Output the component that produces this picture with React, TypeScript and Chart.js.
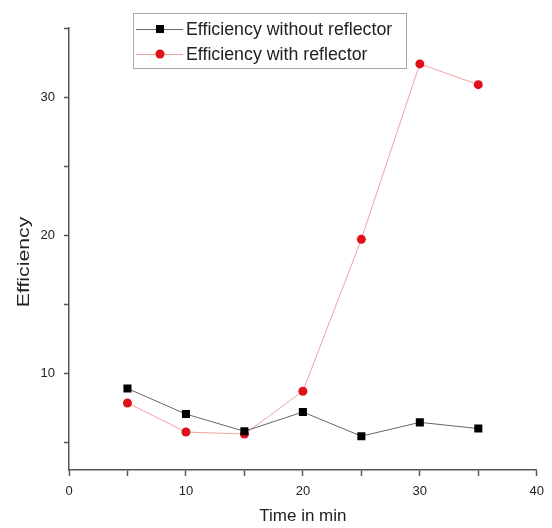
import React, { useEffect, useRef } from 'react';
import { Chart, registerables } from 'chart.js';

Chart.register(...registerables);

const timeMinutes = [5, 10, 15, 20, 25, 30, 35];
const efficiencyWithout = [8.9, 7.05, 5.8, 7.2, 5.45, 6.45, 6.0];
const efficiencyWith = [7.85, 5.75, 5.6, 8.7, 19.7, 32.4, 30.9];
const seriesLabels = ['Efficiency without reflector', 'Efficiency with reflector'];
const yTickValues = [5, 10, 15, 20, 25, 30, 35];
const xAxisTitle = 'Time in min';
const yAxisTitle = 'Efficiency';

const FONT = "'Liberation Sans', Arial, Helvetica, sans-serif";
const AXIS_COLOR = '#555555';

const boxLegend = {
  id: 'boxLegend',
  afterDraw(chart: any) {
    const { ctx, chartArea } = chart;
    const x0 = chartArea.left + 64;
    const y0 = chartArea.top - 15;
    const w = 273;
    const h = 55;
    ctx.save();
    ctx.fillStyle = '#ffffff';
    ctx.fillRect(x0, y0, w, h);
    ctx.strokeStyle = '#a8a8a8';
    ctx.lineWidth = 1;
    ctx.strokeRect(x0 + 0.5, y0 + 0.5, w, h);
    ctx.font = `17.8px ${FONT}`;
    ctx.textBaseline = 'middle';
    chart.data.datasets.forEach((ds: any, i: number) => {
      const cy = y0 + 16 + i * 25;
      ctx.strokeStyle = ds.borderColor;
      ctx.lineWidth = 1;
      ctx.beginPath();
      ctx.moveTo(x0 + 3, cy + 0.5);
      ctx.lineTo(x0 + 50, cy + 0.5);
      ctx.stroke();
      ctx.fillStyle = ds.pointBackgroundColor;
      if (ds.pointStyle === 'rect') {
        ctx.fillRect(x0 + 27 - 4, cy - 4, 8, 8);
      } else {
        ctx.beginPath();
        ctx.arc(x0 + 27, cy, 4.5, 0, Math.PI * 2);
        ctx.fill();
      }
      ctx.fillStyle = '#222222';
      ctx.fillText(ds.label, x0 + 53, cy + 1);
    });
    ctx.restore();
  },
};

const yTitlePlugin = {
  id: 'yTitle',
  afterDraw(chart: any) {
    const { ctx, chartArea } = chart;
    const cx = 24;
    const cy = (chartArea.top + chartArea.bottom) / 2 + 13;
    ctx.save();
    ctx.translate(cx, cy);
    ctx.rotate(-Math.PI / 2);
    ctx.scale(1.25, 1);
    ctx.font = `17px ${FONT}`;
    ctx.fillStyle = '#222222';
    ctx.textAlign = 'center';
    ctx.textBaseline = 'middle';
    ctx.fillText(yAxisTitle, 0, 0);
    ctx.restore();
  },
};

export default function App() {
  const canvasRef = useRef<HTMLCanvasElement | null>(null);

  useEffect(() => {
    document.body.style.margin = '0';
    const canvas = canvasRef.current;
    if (!canvas) return;
    const chart = new Chart(canvas, {
      type: 'line',
      data: {
        datasets: [
          {
            label: seriesLabels[0],
            data: timeMinutes.map((t, i) => ({ x: t, y: efficiencyWithout[i] })),
            borderColor: '#666666',
            borderWidth: 1,
            pointStyle: 'rect',
            pointRadius: 5.7,
            pointBackgroundColor: '#000000',
            pointBorderColor: '#000000',
            pointBorderWidth: 0,
            tension: 0,
          },
          {
            label: seriesLabels[1],
            data: timeMinutes.map((t, i) => ({ x: t, y: efficiencyWith[i] })),
            borderColor: '#f2a0a0',
            borderWidth: 1,
            pointStyle: 'circle',
            pointRadius: 4.5,
            pointBackgroundColor: '#e0101a',
            pointBorderColor: '#e0101a',
            pointBorderWidth: 0,
            tension: 0,
          },
        ],
      },
      options: {
        responsive: false,
        animation: false,
        devicePixelRatio: 1,
        layout: { padding: { left: 0, top: 28, right: 10, bottom: 0 } },
        plugins: {
          legend: { display: false },
          tooltip: { enabled: false },
        },
        scales: {
          x: {
            type: 'linear',
            min: 0,
            max: 40,
            afterFit: (scale: any) => {
              scale.height = 58;
            },
            ticks: {
              stepSize: 5,
              padding: 8,
              color: '#222222',
              font: { family: FONT, size: 13 },
              maxRotation: 0,
              autoSkip: false,
              callback: (v: any) => (Number(v) % 10 === 0 ? String(v) : ''),
            },
            grid: {
              display: true,
              drawOnChartArea: false,
              drawTicks: true,
              tickLength: 6,
              tickColor: AXIS_COLOR,
              tickWidth: 1.5,
            },
            border: { display: true, color: AXIS_COLOR, width: 1.5 },
            title: {
              display: true,
              text: xAxisTitle,
              color: '#222222',
              font: { family: FONT, size: 17 },
              padding: { top: 0, bottom: 1 },
            },
          },
          y: {
            type: 'linear',
            min: 3,
            max: 35,
            afterBuildTicks: (scale: any) => {
              scale.ticks = yTickValues.map((v) => ({ value: v }));
            },
            afterFit: (scale: any) => {
              scale.width = 69;
            },
            ticks: {
              padding: 9,
              color: '#222222',
              font: { family: FONT, size: 13 },
              autoSkip: false,
              callback: (v: any) => (Number(v) % 10 === 0 ? String(v) : ''),
            },
            grid: {
              display: true,
              drawOnChartArea: false,
              drawTicks: true,
              tickLength: 5,
              tickColor: AXIS_COLOR,
              tickWidth: 1.5,
            },
            border: { display: true, color: AXIS_COLOR, width: 1.5 },
            title: { display: false },
          },
        },
      },
      plugins: [boxLegend, yTitlePlugin],
    } as any);
    return () => chart.destroy();
  }, []);

  return (
    <div style={{ position: 'absolute', left: 0, top: 0, width: 552, height: 528, background: '#fff' }}>
      <canvas ref={canvasRef} width={552} height={528} />
    </div>
  );
}
